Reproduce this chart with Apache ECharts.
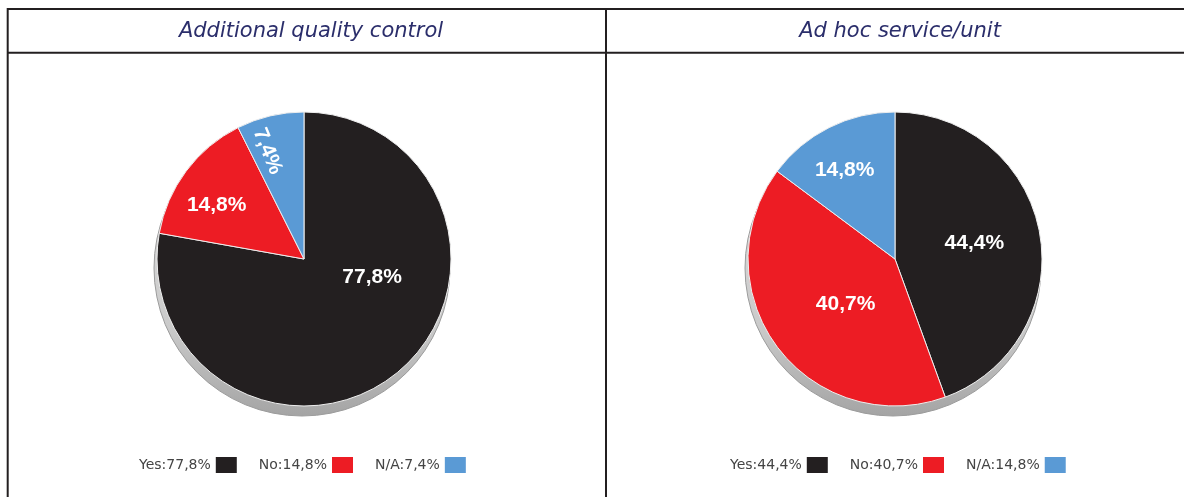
<!DOCTYPE html>
<html>
<head>
<meta charset="utf-8">
<script src="https://cdn.jsdelivr.net/npm/echarts@6/dist/echarts.min.js"></script>
<style>
  html, body { margin: 0; padding: 0; background: #ffffff; }
  #chart { width: 1184px; height: 497px; }
</style>
</head>
<body>
<div id="chart"></div>
<script>
// ---- data ----
const categories = ['Yes', 'No', 'N/A'];
const titles = ['Additional quality control', 'Ad hoc service/unit'];
const qualityControl = [77.8, 14.8, 7.4];
const adHocService = [44.4, 40.7, 14.8];
const rimData = [1];

// ---- styles ----
const colors = ['#231f20', '#ed1c24', '#5a9ad5'];
const lineColor = '#231f20';
const centers = [[304, 259], [895, 259]];
const radius = 147;
// label offsets from default inside position (style only, in label's own frame)
const labelOffsets = [
  [[19, -40], [-26, -8], [-38, 5]],
  [[4, -3], [12, 0], [-16, -20]]
];
const labelRotate = [[0, 0, -68], [0, 0, 0]];

function fmt(v) { return v.toFixed(1).replace('.', ',') + '%'; }

function pieData(values, si) {
  return categories.map((c, i) => ({
    name: c,
    value: values[i],
    itemStyle: { color: colors[i] },
    label: { rotate: labelRotate[si][i] }
  }));
}

function rimSeries(si) {
  return {
    type: 'pie',
    name: 'rim' + si,
    silent: true,
    center: [centers[si][0] - 2, centers[si][1] + 9],
    radius: radius + 1,
    label: { show: false },
    labelLine: { show: false },
    itemStyle: {
      color: {
        type: 'linear', x: 0, y: 0, x2: 0, y2: 1,
        colorStops: [
          { offset: 0, color: '#e4e4e4' },
          { offset: 0.7, color: '#cacaca' },
          { offset: 1, color: '#a4a4a4' }
        ]
      },
      borderColor: '#9c9c9c',
      borderWidth: 1
    },
    emphasis: { disabled: true },
    tooltip: { show: false },
    data: rimData.map(v => ({ name: 'rim', value: v }))
  };
}

function mainSeries(values, si) {
  return {
    type: 'pie',
    name: titles[si],
    center: centers[si],
    radius: radius,
    startAngle: 90,
    clockwise: true,
    label: {
      show: true,
      position: 'inside',
      formatter: p => fmt(p.value),
      color: '#ffffff',
      fontFamily: 'Liberation Sans, Arial, sans-serif',
      fontWeight: 'bold',
      fontSize: 21
    },
    labelLayout: function (p) {
      const o = labelOffsets[si][p.dataIndex];
      return { dx: o[0], dy: o[1] };
    },
    labelLine: { show: false },
    itemStyle: { borderColor: '#eeeeee', borderWidth: 1 },
    emphasis: { disabled: true },
    data: pieData(values, si)
  };
}

function legendFor(values, left) {
  return {
    left: left,
    top: 452,
    orient: 'horizontal',
    align: 'right',
    icon: 'rect',
    itemWidth: 21,
    itemHeight: 16,
    itemGap: 22,
    selectedMode: false,
    itemStyle: { borderWidth: 0 },
    textStyle: { fontFamily: 'DejaVu Sans, Verdana, sans-serif', fontSize: 14, color: '#444444' },
    data: categories,
    formatter: name => name + ':' + fmt(values[categories.indexOf(name)])
  };
}

const chart = echarts.init(document.getElementById('chart'), null, { renderer: 'canvas' });
chart.setOption({
  backgroundColor: '#ffffff',
  animation: false,
  title: titles.map((t, i) => ({
    text: t,
    left: [306, 895][i],
    top: 16,
    textAlign: 'center',
    textStyle: {
      fontFamily: 'DejaVu Sans, Verdana, sans-serif',
      fontStyle: 'italic',
      fontWeight: 'normal',
      fontSize: 21,
      color: '#2b2e6b'
    }
  })),
  legend: [legendFor(qualityControl, 134), legendFor(adHocService, 725)],
  graphic: [
    { type: 'line', shape: { x1: 7, y1: 9, x2: 1184, y2: 9 }, style: { stroke: lineColor, lineWidth: 2 } },
    { type: 'line', shape: { x1: 7, y1: 52.7, x2: 1184, y2: 52.7 }, style: { stroke: lineColor, lineWidth: 2 } },
    { type: 'line', shape: { x1: 7.7, y1: 8, x2: 7.7, y2: 497 }, style: { stroke: lineColor, lineWidth: 2 } },
    { type: 'line', shape: { x1: 606, y1: 8, x2: 606, y2: 497 }, style: { stroke: lineColor, lineWidth: 2 } }
  ],
  series: [
    rimSeries(0),
    rimSeries(1),
    mainSeries(qualityControl, 0),
    mainSeries(adHocService, 1)
  ]
});
</script>
</body>
</html>
